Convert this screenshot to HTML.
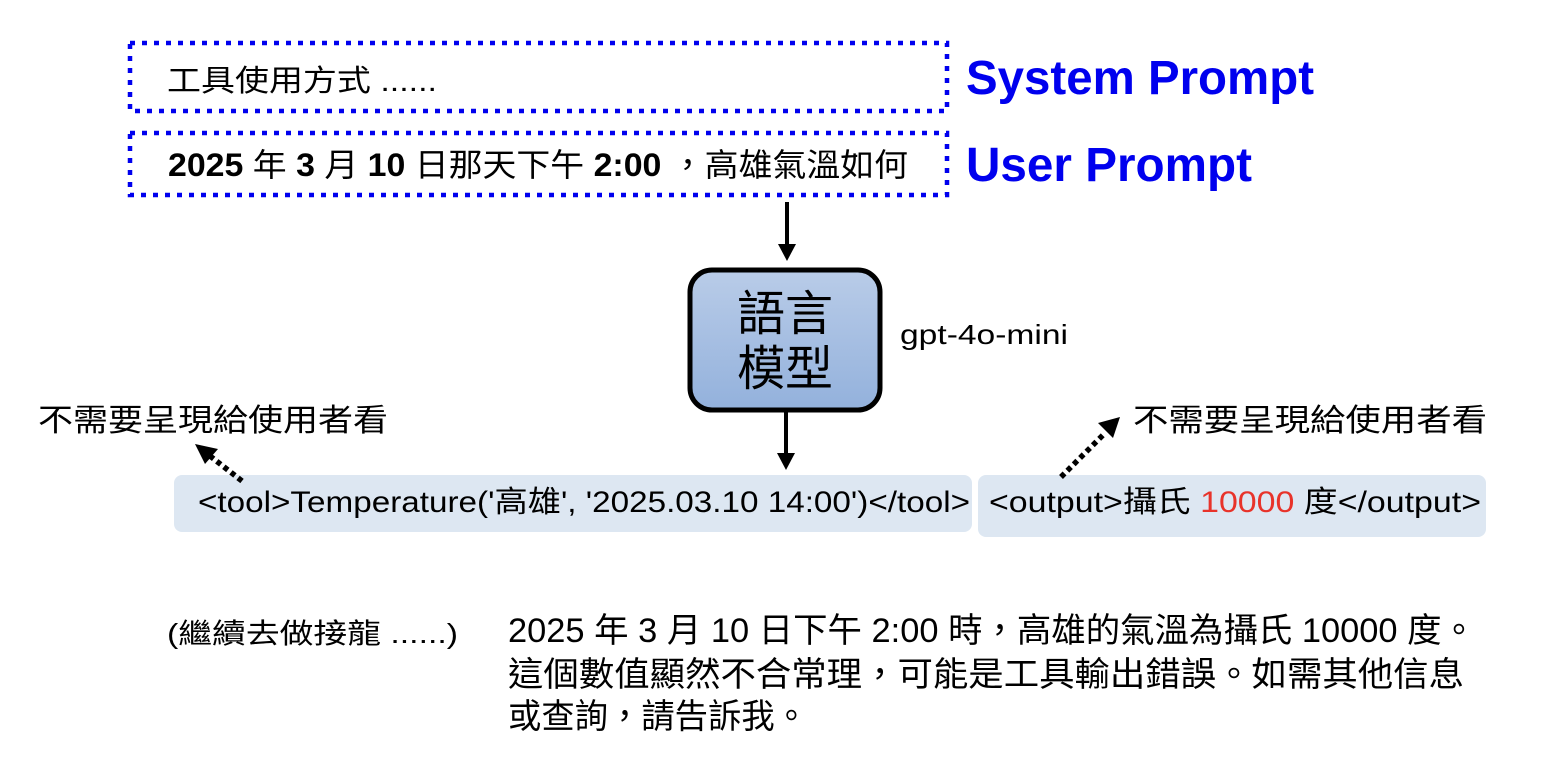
<!DOCTYPE html>
<html><head><meta charset="utf-8"><style>
html,body{margin:0;padding:0;background:#fff;}
svg{display:block;}
text{font-family:"Liberation Sans","Noto Sans CJK TC",sans-serif;}
</style></head><body>
<svg width="1542" height="772" viewBox="0 0 1542 772" xmlns="http://www.w3.org/2000/svg">
<defs>
<linearGradient id="g" x1="0" y1="0" x2="0" y2="1">
<stop offset="0" stop-color="#b9cce8"/><stop offset="1" stop-color="#93b1dc"/>
</linearGradient>
</defs>
<rect x="130" y="43" width="817" height="68" fill="none" stroke="#0000ee" stroke-width="4.5" stroke-dasharray="5 7"/>
<rect x="130" y="133" width="817" height="62" fill="none" stroke="#0000ee" stroke-width="4.5" stroke-dasharray="5 7"/>
<text x="167" y="91" font-size="30" textLength="270" lengthAdjust="spacingAndGlyphs">工具使用方式 ......</text>
<text x="168" y="176" font-size="32" textLength="740" lengthAdjust="spacingAndGlyphs"><tspan font-weight="bold">2025</tspan> 年 <tspan font-weight="bold">3</tspan> 月 <tspan font-weight="bold">10</tspan> 日那天下午 <tspan font-weight="bold">2:00</tspan> ，高雄氣溫如何</text>
<text x="966" y="94" font-size="48" font-weight="bold" fill="#0000ee" textLength="348" lengthAdjust="spacingAndGlyphs">System Prompt</text>
<text x="966" y="181" font-size="48" font-weight="bold" fill="#0000ee" textLength="286" lengthAdjust="spacingAndGlyphs">User Prompt</text>
<line x1="787" y1="202" x2="787" y2="246" stroke="#000" stroke-width="4"/>
<polygon points="778,244 796,244 787,261" fill="#000"/>
<rect x="690" y="270" width="190" height="140" rx="22" fill="url(#g)" stroke="#000" stroke-width="5"/>
<text x="785" y="330" font-size="48" text-anchor="middle">語言</text>
<text x="785" y="385" font-size="48" text-anchor="middle">模型</text>
<text x="900" y="344" font-size="28" textLength="168" lengthAdjust="spacingAndGlyphs">gpt-4o-mini</text>
<line x1="786" y1="412" x2="786" y2="455" stroke="#000" stroke-width="4"/>
<polygon points="777,453 795,453 786,470" fill="#000"/>
<rect x="174" y="475" width="798" height="57" rx="8" fill="#dde7f2"/>
<rect x="978" y="475" width="508" height="62" rx="8" fill="#dde7f2"/>
<text x="198" y="512" font-size="30" textLength="772" lengthAdjust="spacingAndGlyphs">&lt;tool&gt;Temperature('高雄', '2025.03.10 14:00')&lt;/tool&gt;</text>
<text x="989" y="512" font-size="30" textLength="492" lengthAdjust="spacingAndGlyphs">&lt;output&gt;攝氏 <tspan fill="#e8332a">10000</tspan> 度&lt;/output&gt;</text>
<text x="38" y="431" font-size="31" textLength="350" lengthAdjust="spacingAndGlyphs">不需要呈現給使用者看</text>
<text x="1133" y="431" font-size="31" textLength="354" lengthAdjust="spacingAndGlyphs">不需要呈現給使用者看</text>
<line x1="242" y1="481" x2="210" y2="456" stroke="#000" stroke-width="5.5" stroke-dasharray="5 4"/>
<polygon points="195,444 218,449 205,464" fill="#000"/>
<line x1="1061" y1="477" x2="1105" y2="433" stroke="#000" stroke-width="5.5" stroke-dasharray="5 4"/>
<polygon points="1120,417 1098,423 1113,438" fill="#000"/>
<text x="167" y="643" font-size="28" textLength="291" lengthAdjust="spacingAndGlyphs">(繼續去做接龍 ......)</text>
<text x="508" y="642" font-size="34" textLength="968" lengthAdjust="spacingAndGlyphs">2025 年 3 月 10 日下午 2:00 時，高雄的氣溫為攝氏 10000 度。</text>
<text x="508" y="686" font-size="34" textLength="956" lengthAdjust="spacingAndGlyphs">這個數值顯然不合常理，可能是工具輸出錯誤。如需其他信息</text>
<text x="508" y="728" font-size="34" textLength="300" lengthAdjust="spacingAndGlyphs">或查詢，請告訴我。</text>
</svg>
</body></html>
